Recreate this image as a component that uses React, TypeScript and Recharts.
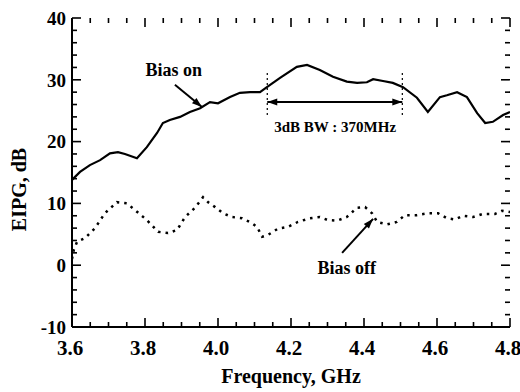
import React from 'react';
import { LineChart, Line, XAxis, YAxis, ReferenceLine, ReferenceDot, Label } from 'recharts';

// ---- data ----
const biasOnFreq = [3.6, 3.622, 3.649, 3.677, 3.704, 3.726, 3.745, 3.778, 3.805, 3.833, 3.849, 3.868, 3.896, 3.923, 3.951, 3.978, 4.0, 4.033, 4.06, 4.088, 4.115, 4.134, 4.17, 4.216, 4.244, 4.279, 4.315, 4.353, 4.381, 4.408, 4.425, 4.452, 4.479, 4.507, 4.545, 4.575, 4.608, 4.627, 4.655, 4.682, 4.71, 4.732, 4.753, 4.781, 4.8];
const biasOnGain = [13.8, 15.1, 16.2, 17.0, 18.1, 18.3, 18.0, 17.3, 19.1, 21.4, 23.0, 23.5, 24.0, 24.8, 25.4, 26.4, 26.2, 27.2, 27.9, 28.0, 28.0, 28.8, 30.3, 32.1, 32.4, 31.6, 30.5, 29.7, 29.5, 29.6, 30.1, 29.8, 29.5, 28.8, 27.1, 24.8, 27.2, 27.5, 28.0, 27.2, 24.6, 23.0, 23.2, 24.3, 24.8];

const biasOffFreq = [3.6, 3.605, 3.614, 3.636, 3.663, 3.69, 3.723, 3.751, 3.773, 3.805, 3.836, 3.863, 3.888, 3.91, 3.937, 3.959, 3.973, 3.992, 4.014, 4.038, 4.066, 4.093, 4.107, 4.121, 4.137, 4.164, 4.192, 4.219, 4.252, 4.279, 4.301, 4.326, 4.353, 4.381, 4.403, 4.422, 4.436, 4.463, 4.49, 4.512, 4.545, 4.575, 4.603, 4.627, 4.649, 4.671, 4.699, 4.726, 4.759, 4.778, 4.8];
const biasOffGain = [1.0, 2.5, 3.8, 4.4, 6.0, 8.4, 10.2, 10.0, 8.9, 7.3, 5.4, 5.2, 5.7, 7.8, 9.3, 11.0, 10.2, 9.4, 8.4, 7.8, 7.6, 6.8, 6.2, 4.6, 4.9, 5.9, 6.2, 7.0, 7.6, 7.8, 7.3, 7.2, 7.8, 9.3, 9.4, 8.4, 7.0, 6.6, 7.0, 8.1, 8.1, 8.4, 8.4, 7.6, 7.4, 8.0, 7.8, 8.3, 8.3, 8.8, 8.6];

const xMajorTicks = [3.6, 3.8, 4.0, 4.2, 4.4, 4.6, 4.8];
const yMajorTicks = [-10, 0, 10, 20, 30, 40];
const xMinorStep = 0.05;
const yMinorStep = 2;

const bandwidthEdges = [4.135, 4.505];
const bandwidthLabel = '3dB BW : 370MHz';

// ---- derived tables ----
const xDomain: [number, number] = [3.6, 4.8];
const yDomain: [number, number] = [-10, 40];
const biasOn = biasOnFreq.map((f, i) => ({ f, g: biasOnGain[i] }));
const biasOff = biasOffFreq.map((f, i) => ({ f, g: biasOffGain[i] }));
const xAllTicks = Array.from({ length: 25 }, (_, i) => Math.round((3.6 + xMinorStep * i) * 1000) / 1000);
const yAllTicks = Array.from({ length: 26 }, (_, i) => -10 + yMinorStep * i);
const isXMajor = (v: number) => xMajorTicks.some((m) => Math.abs(m - v) < 1e-6);
const isYMajor = (v: number) => yMajorTicks.includes(v);
// inward tick lengths expressed in axis units (≈9px major / 5px minor)
const yUnitsPerPx = (yDomain[1] - yDomain[0]) / 309;
const xUnitsPerPx = (xDomain[1] - xDomain[0]) / 438;

const FONT = 'Liberation Serif';
const txtStyle = { fontFamily: FONT, fontWeight: 700 as const, fill: '#000' };

const arrowHead = (x: number, y: number, a: number) => {
  const L = 10;
  const W = 3.5;
  const bx = x - L * Math.cos(a);
  const by = y - L * Math.sin(a);
  return `${x},${y} ${bx + W * Math.sin(a)},${by - W * Math.cos(a)} ${bx - W * Math.sin(a)},${by + W * Math.cos(a)}`;
};
const makeArrow = (both: boolean) => (p: any) => {
  const { x1, y1, x2, y2 } = p;
  const a = Math.atan2(y2 - y1, x2 - x1);
  return (
    <g>
      <line x1={x1} y1={y1} x2={x2} y2={y2} stroke="#000" strokeWidth={2} />
      <polygon points={arrowHead(x2, y2, a)} fill="#000" />
      {both && <polygon points={arrowHead(x1, y1, a + Math.PI)} fill="#000" />}
    </g>
  );
};
const makeText = (txt: string, size: number) => (p: any) => (
  <text x={p.cx} y={p.cy} textAnchor="middle" dominantBaseline="central" style={{ ...txtStyle, fontSize: size }}>
    {txt}
  </text>
);

const YLabel = (p: any) => {
  const vb = p.viewBox;
  const cx = vb.x + 19;
  const cy = vb.y + vb.height / 2 + 17;
  return (
    <text x={cx} y={cy} transform={`rotate(-90, ${cx}, ${cy})`} textAnchor="middle" dominantBaseline="central" style={{ ...txtStyle, fontSize: 20 }}>
      EIPG, dB
    </text>
  );
};
const XLabel = (p: any) => {
  const vb = p.viewBox;
  return (
    <text x={vb.x + vb.width / 2} y={vb.y + 56} textAnchor="middle" style={{ ...txtStyle, fontSize: 20 }}>
      Frequency, GHz
    </text>
  );
};

const axisLine = { stroke: '#000', strokeWidth: 2 };

export default function App() {
  const tickRefs: React.ReactNode[] = [];
  xAllTicks.forEach((v) => {
    const len = (isXMajor(v) ? 9 : 5) * yUnitsPerPx;
    tickRefs.push(
      <ReferenceLine key={`b${v}`} ifOverflow="visible" segment={[{ x: v, y: yDomain[0] }, { x: v, y: yDomain[0] + len }]} stroke="#000" strokeWidth={1.6} />,
      <ReferenceLine key={`t${v}`} ifOverflow="visible" segment={[{ x: v, y: yDomain[1] }, { x: v, y: yDomain[1] - len }]} stroke="#000" strokeWidth={1.6} />
    );
  });
  yAllTicks.forEach((v) => {
    const len = (isYMajor(v) ? 9 : 5) * xUnitsPerPx;
    tickRefs.push(
      <ReferenceLine key={`l${v}`} ifOverflow="visible" segment={[{ x: xDomain[0], y: v }, { x: xDomain[0] + len, y: v }]} stroke="#000" strokeWidth={1.6} />,
      <ReferenceLine key={`r${v}`} ifOverflow="visible" segment={[{ x: xDomain[1], y: v }, { x: xDomain[1] - len, y: v }]} stroke="#000" strokeWidth={1.6} />
    );
  });

  return (
    <div style={{ position: 'absolute', left: 0, top: 0, background: '#fff' }}>
      <LineChart width={520} height={392} margin={{ top: 18, right: 10, bottom: 0, left: 0 }}>
        <XAxis xAxisId={0} dataKey="f" type="number" domain={xDomain} ticks={xMajorTicks} interval={0} allowDataOverflow height={65} tickSize={-9} tickMargin={22} tickLine={false} axisLine={axisLine} tickFormatter={(v: number) => v.toFixed(1)} tick={{ ...txtStyle, fontSize: 21, dx: -2 }}>
          <Label content={<XLabel />} />
        </XAxis>
        <XAxis xAxisId="top" orientation="top" dataKey="f" type="number" domain={xDomain} ticks={xMajorTicks} allowDataOverflow height={0} tick={false} tickLine={false} axisLine={axisLine} />
        <YAxis yAxisId={0} type="number" domain={yDomain} ticks={yMajorTicks} interval={0} allowDataOverflow width={72} tickSize={-9} tickMargin={15} tickLine={false} axisLine={axisLine} tick={{ ...txtStyle, fontSize: 19 }}>
          <Label content={<YLabel />} />
        </YAxis>
        <YAxis yAxisId="right" orientation="right" type="number" domain={yDomain} ticks={yMajorTicks} allowDataOverflow width={0} tick={false} tickLine={false} axisLine={axisLine} />

        {tickRefs}

        <Line data={biasOn} dataKey="g" type="linear" stroke="#000" strokeWidth={2.2} dot={false} isAnimationActive={false} />
        <Line data={biasOff} dataKey="g" type="linear" stroke="#000" strokeWidth={2.5} strokeDasharray="2.5 5" dot={false} isAnimationActive={false} />

        {bandwidthEdges.map((e) => (
          <ReferenceLine key={e} segment={[{ x: e, y: 31.1 }, { x: e, y: 23.8 }]} stroke="#000" strokeWidth={1.2} strokeDasharray="2 3" />
        ))}
        <ReferenceLine segment={[{ x: bandwidthEdges[0], y: 26.4 }, { x: bandwidthEdges[1], y: 26.4 }]} shape={makeArrow(true)} />
        <ReferenceLine segment={[{ x: 3.882, y: 29.2 }, { x: 3.956, y: 25.6 }]} shape={makeArrow(false)} />
        <ReferenceLine segment={[{ x: 4.34, y: 2.0 }, { x: 4.425, y: 7.5 }]} shape={makeArrow(false)} />

        <ReferenceDot x={3.879} y={31.6} r={1} shape={makeText('Bias on', 18)} />
        <ReferenceDot x={4.321} y={22.4} r={1} shape={makeText(bandwidthLabel, 15)} />
        <ReferenceDot x={4.353} y={-0.45} r={1} shape={makeText('Bias off', 18)} />
      </LineChart>
    </div>
  );
}
